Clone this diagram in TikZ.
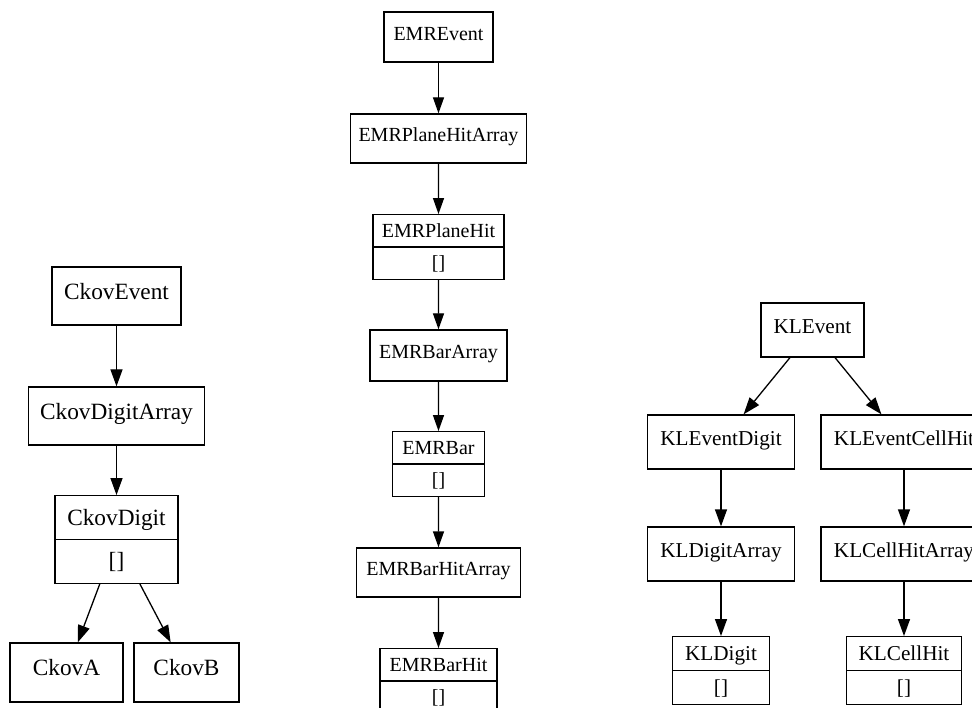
\documentclass[tikz,border=0pt]{standalone}
\usepackage{fontspec}
\setmainfont{Liberation Serif}
\usetikzlibrary{arrows.meta,shapes.multipart}
\tikzset{
  box/.style={draw, line width=1.3pt, text height=0.66em, text depth=0pt, inner sep=0pt},
  rec/.style={draw, line width=1.3pt, rectangle split, rectangle split parts=2, inner xsep=0pt, inner ysep=0pt},
}
\newcommand{\rs}[2]{\rule[-#1pt]{0pt}{#2pt}}
\begin{document}
\begin{tikzpicture}[x=1pt, y=1pt,
    edge from parent/.style={draw, line width=1.3pt, -{Triangle[length=17pt,width=12pt]}}]
  \useasboundingbox (0,0) rectangle (972,-708);
  % Ckov
  \begin{scope}[font=\fontsize{23.3}{28}\selectfont, level distance=120pt, sibling distance=120pt]
    \node[box, minimum width=129pt, minimum height=58pt] (ckovevent) at (116.5,-296) {CkovEvent}
      child {node[box, minimum width=176pt, minimum height=58pt] (ckovdigitarray) {CkovDigitArray}
        child[level distance=123.5pt] {node[rec, minimum width=123pt] (ckovdigit) {\rs{13.8}{42.5}CkovDigit\nodepart{two}\rs{13.8}{42.5}[]}
          child[level distance=133pt, xshift=10pt] {node[box, minimum width=113pt, minimum height=59pt] (ckova) {CkovA}}
          child[level distance=133pt, xshift=10pt] {node[box, minimum width=105pt, minimum height=59pt] (ckovb) {CkovB}}}};
  \end{scope}
  % EMR
  \begin{scope}[font=\fontsize{20}{24}\selectfont, level distance=108.5pt,
      edge from parent/.style={draw, line width=1.3pt, -{Triangle[length=16pt,width=11pt]}}]
    \node[box, minimum width=109pt, minimum height=50pt] (emrevent) at (438.5,-37) {EMREvent}
      child[level distance=101.5pt] {node[box, minimum width=176pt, minimum height=49pt] (emrplanehitarray) {EMRPlaneHitArray}
        child[level distance=108.5pt] {node[rec, minimum width=131pt] (emrplanehit) {\rs{9.1}{31}EMRPlaneHit\nodepart{two}\rs{9.1}{31}[]}
          child {node[box, minimum width=137pt, minimum height=51pt] (emrbararray) {EMRBarArray}
            child {node[rec, minimum width=92pt] (emrbar) {\rs{9.1}{31}EMRBar\nodepart{two}\rs{9.1}{31}[]}
              child {node[box, minimum width=164pt, minimum height=49pt] (emrbarhitarray) {EMRBarHitArray}
                child {node[rec, minimum width=117pt] (emrbarhit) {\rs{9.1}{31}EMRBarHit\nodepart{two}\rs{9.1}{31}[]}}}}}}};
  \end{scope}
  % KL
  \begin{scope}[font=\fontsize{21.2}{25}\selectfont, level distance=112pt, sibling distance=183pt]
    \node[box, minimum width=103pt, minimum height=54pt] (klevent) at (812.5,-330) {KLEvent}
      child {node[box, minimum width=147pt, minimum height=54pt] (kleventdigit) {KLEventDigit}
        child {node[box, minimum width=147pt, minimum height=54pt] (kldigitarray) {KLDigitArray}
          child[level distance=116.5pt] {node[rec, minimum width=97pt] (kldigit) {\rs{9.3}{32.5}KLDigit\nodepart{two}\rs{9.3}{32.5}[]}}}}
      child {node[box, minimum width=166pt, minimum height=54pt] (kleventcellhit) {KLEventCellHit}
        child {node[box, minimum width=166pt, minimum height=54pt] (klcellhitarray) {KLCellHitArray}
          child[level distance=116.5pt] {node[rec, minimum width=115pt] (klcellhit) {\rs{9.3}{32.5}KLCellHit\nodepart{two}\rs{9.3}{32.5}[]}}}};
  \end{scope}
\end{tikzpicture}
\end{document}
